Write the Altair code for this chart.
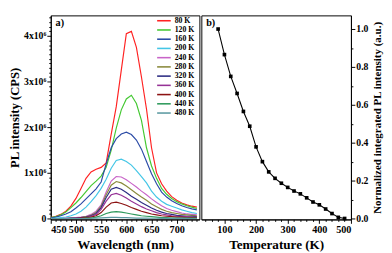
import altair as alt
import pandas as pd

# ---------------- data ----------------
wavelength = list(range(450, 750, 10))  # 450 .. 740 nm
temp_labels = ["80 K", "120 K", "160 K", "200 K", "240 K", "280 K",
               "320 K", "360 K", "400 K", "440 K", "480 K"]
colors = ["#ff2222", "#44c832", "#2b4ba6", "#44c6e6", "#c864c8", "#8a8a3c",
          "#2c2c82", "#963296", "#8c1212", "#2e9a5c", "#5c9aa2"]

# PL intensity in units of 1e6 CPS
i80 = [0.02, 0.05, 0.09, 0.16, 0.27, 0.44, 0.66, 0.88, 1.02, 1.08, 1.12, 1.22, 1.85, 2.45,
       3.25, 4.05, 4.10, 3.75, 3.10, 2.40, 1.55, 1.00, 0.76, 0.60, 0.48, 0.40, 0.34, 0.30, 0.27, 0.25]
i120 = [0.02, 0.04, 0.08, 0.14, 0.24, 0.34, 0.46, 0.59, 0.72, 0.82, 0.93, 1.12, 1.50, 1.98,
        2.38, 2.62, 2.70, 2.52, 2.15, 1.55, 1.15, 0.88, 0.66, 0.53, 0.44, 0.37, 0.32, 0.28, 0.25, 0.22]
i160 = [0.01, 0.03, 0.06, 0.10, 0.15, 0.23, 0.32, 0.43, 0.54, 0.65, 0.80, 1.20, 1.55, 1.75,
        1.85, 1.89, 1.84, 1.72, 1.52, 1.25, 0.98, 0.76, 0.58, 0.47, 0.39, 0.33, 0.28, 0.24, 0.21, 0.19]
i200 = [0.00, 0.01, 0.02, 0.03, 0.06, 0.10, 0.16, 0.25, 0.37, 0.50, 0.66, 0.86, 1.10, 1.27,
        1.30, 1.25, 1.17, 1.05, 0.92, 0.78, 0.60, 0.47, 0.38, 0.31, 0.27, 0.23, 0.19, 0.16, 0.13, 0.11]
i240 = [0.00, 0.00, 0.00, 0.01, 0.01, 0.02, 0.03, 0.05, 0.09, 0.16, 0.30, 0.58, 0.82, 0.92,
        0.91, 0.85, 0.77, 0.69, 0.60, 0.52, 0.43, 0.35, 0.28, 0.22, 0.18, 0.15, 0.12, 0.10, 0.09, 0.08]
i280 = [0.00, 0.00, 0.00, 0.00, 0.01, 0.01, 0.02, 0.04, 0.07, 0.13, 0.27, 0.52, 0.73, 0.81,
        0.78, 0.71, 0.63, 0.55, 0.47, 0.40, 0.32, 0.26, 0.20, 0.16, 0.13, 0.11, 0.09, 0.08, 0.07, 0.06]
i320 = [0.00, 0.00, 0.00, 0.00, 0.01, 0.01, 0.02, 0.03, 0.06, 0.11, 0.24, 0.46, 0.64, 0.68,
        0.64, 0.57, 0.49, 0.42, 0.35, 0.29, 0.23, 0.18, 0.14, 0.11, 0.09, 0.07, 0.06, 0.05, 0.05, 0.04]
i360 = [0.00, 0.00, 0.00, 0.00, 0.00, 0.01, 0.01, 0.02, 0.05, 0.09, 0.20, 0.38, 0.52, 0.55,
        0.51, 0.45, 0.38, 0.32, 0.26, 0.21, 0.17, 0.13, 0.10, 0.08, 0.06, 0.05, 0.04, 0.04, 0.03, 0.03]
i400 = [0.00, 0.00, 0.00, 0.00, 0.00, 0.00, 0.01, 0.02, 0.03, 0.06, 0.13, 0.25, 0.34, 0.36,
        0.33, 0.29, 0.24, 0.20, 0.16, 0.13, 0.10, 0.08, 0.06, 0.05, 0.04, 0.03, 0.03, 0.02, 0.02, 0.02]
i440 = [0.00, 0.00, 0.00, 0.00, 0.00, 0.00, 0.00, 0.01, 0.01, 0.03, 0.06, 0.11, 0.14, 0.15,
        0.14, 0.12, 0.10, 0.08, 0.06, 0.05, 0.04, 0.03, 0.02, 0.02, 0.01, 0.01, 0.01, 0.01, 0.01, 0.01]
i480 = [0.00, 0.00, 0.00, 0.00, 0.00, 0.00, 0.00, 0.00, 0.005, 0.01, 0.015, 0.02, 0.025, 0.025,
        0.02, 0.02, 0.015, 0.01, 0.01, 0.008, 0.006, 0.005, 0.004, 0.003, 0.003, 0.002, 0.002, 0.002, 0.001, 0.001]
spectra = [i80, i120, i160, i200, i240, i280, i320, i360, i400, i440, i480]

temperature = [80, 100, 120, 140, 160, 180, 200, 220, 240, 260, 280,
               300, 320, 340, 360, 380, 400, 420, 440, 460, 480]
norm_int = [1.0, 0.865, 0.75, 0.66, 0.565, 0.487, 0.378, 0.30, 0.246, 0.212, 0.186,
            0.164, 0.145, 0.13, 0.109, 0.087, 0.072, 0.05, 0.026, 0.006, 0.0]

# --------------- frames ---------------
rows = []
for lab, vals in zip(temp_labels, spectra):
    for w, v in zip(wavelength, vals):
        rows.append({"wl": w, "I": v, "T": lab})
df_a = pd.DataFrame(rows)
df_b = pd.DataFrame({"T": temperature, "N": norm_int})

FONT = "Liberation Serif"

# tick value lists (major + minor)
xa_ticks = list(range(450, 750, 10))
ya_ticks = [round(i * 0.1, 1) for i in range(0, 45)]
xb_ticks = list(range(40, 501, 20))
yb_ticks = [round(i * 0.1, 1) for i in range(0, 11)]

axis_common = dict(labelFont=FONT, labelFontWeight="bold",
                   titleFont=FONT, titleFontWeight="bold", domainColor="black",
                   tickColor="black", labelColor="black", titleColor="black",
                   grid=False, labelOverlap=False, labelPadding=1)

x_a = alt.X("wl:Q", scale=alt.Scale(domain=[450, 745], nice=False, zero=False),
            axis=alt.Axis(values=xa_ticks, title="Wavelength (nm)", titleFontSize=13.5,
                          titlePadding=3, labelFontSize=10.5,
                          labelExpr="datum.value % 50 === 0 ? datum.label : ''",
                          tickSize={"condition": {"test": "datum.value % 50 === 0", "value": 4}, "value": 2},
                          **axis_common))
y_a = alt.Y("I:Q", scale=alt.Scale(domain=[-0.02, 4.45], nice=False, zero=False),
            axis=alt.Axis(values=ya_ticks, title="PL intensity (CPS)", titleFontSize=13,
                          titlePadding=2, labelFontSize=10,
                          labelExpr="datum.value === 0 ? '0' : (datum.value % 1 === 0 ? format(datum.value, 'd') + 'x10⁶' : '')",
                          tickSize={"condition": {"test": "datum.value % 1 === 0", "value": 4}, "value": 2},
                          **axis_common))

lines_a = alt.Chart(df_a).mark_line(strokeWidth=1.2, clip=True).encode(
    x=x_a, y=y_a,
    color=alt.Color("T:N", sort=temp_labels,
                    scale=alt.Scale(domain=temp_labels, range=colors),
                    legend=alt.Legend(title=None, orient="none", legendX=111.5, legendY=0.5,
                                      symbolType="M-1.75,0H1.75", symbolSize=64,
                                      symbolStrokeWidth=1.6, labelFont=FONT,
                                      labelFontWeight="bold", labelFontSize=8,
                                      labelColor="black", rowPadding=0.5,
                                      padding=0, labelOffset=6)),
    order=alt.Order("wl:Q"),
)
label_a = alt.Chart(pd.DataFrame({"t": ["a)"]})).mark_text(
    align="left", baseline="top", font=FONT, fontWeight="bold", fontSize=10.5, color="black"
).encode(x=alt.value(5), y=alt.value(3), text="t:N")

panel_a = alt.layer(lines_a, label_a).properties(width=153, height=210)

x_b = alt.X("T:Q", scale=alt.Scale(domain=[27, 500], nice=False, zero=False),
            axis=alt.Axis(values=xb_ticks, title="Temperature (K)", titleFontSize=13.5,
                          titlePadding=3, labelFontSize=10.5,
                          labelExpr="datum.value % 100 === 0 ? datum.label : ''",
                          tickSize={"condition": {"test": "datum.value % 100 === 0", "value": 4}, "value": 2},
                          **axis_common))
y_b = alt.Y("N:Q", scale=alt.Scale(domain=[-0.005, 1.072], nice=False, zero=False),
            axis=alt.Axis(values=yb_ticks, orient="right", format=".1f",
                          title="Normalized integrated PL intensity (a.u.)", titleFontSize=11.3,
                          titleAngle=270, titleBaseline="top", titlePadding=4, labelFontSize=10,
                          labelExpr="round(datum.value * 10) % 2 === 0 ? format(datum.value, '.1f') : ''",
                          tickSize={"condition": {"test": "round(datum.value * 10) % 2 === 0", "value": 4}, "value": 2},
                          **axis_common))

line_b = alt.Chart(df_b).mark_line(color="black", strokeWidth=1.1).encode(x=x_b, y=y_b)
pts_b = alt.Chart(df_b).mark_point(shape="square", filled=True, size=14, color="black",
                                   opacity=1).encode(x=x_b, y=y_b)
label_b = alt.Chart(pd.DataFrame({"t": ["b)"]})).mark_text(
    align="left", baseline="top", font=FONT, fontWeight="bold", fontSize=10.5, color="black"
).encode(x=alt.value(5), y=alt.value(3), text="t:N")

panel_b = alt.layer(line_b, pts_b, label_b).properties(width=154, height=210)

chart = alt.hconcat(panel_a, panel_b, spacing=0).properties(
    padding={"left": 0, "top": 0, "right": 0, "bottom": 0},
    background="white",
).configure_view(stroke="black", strokeWidth=1)

chart.save("out.html", embed_options={"renderer": "svg", "actions": False})
